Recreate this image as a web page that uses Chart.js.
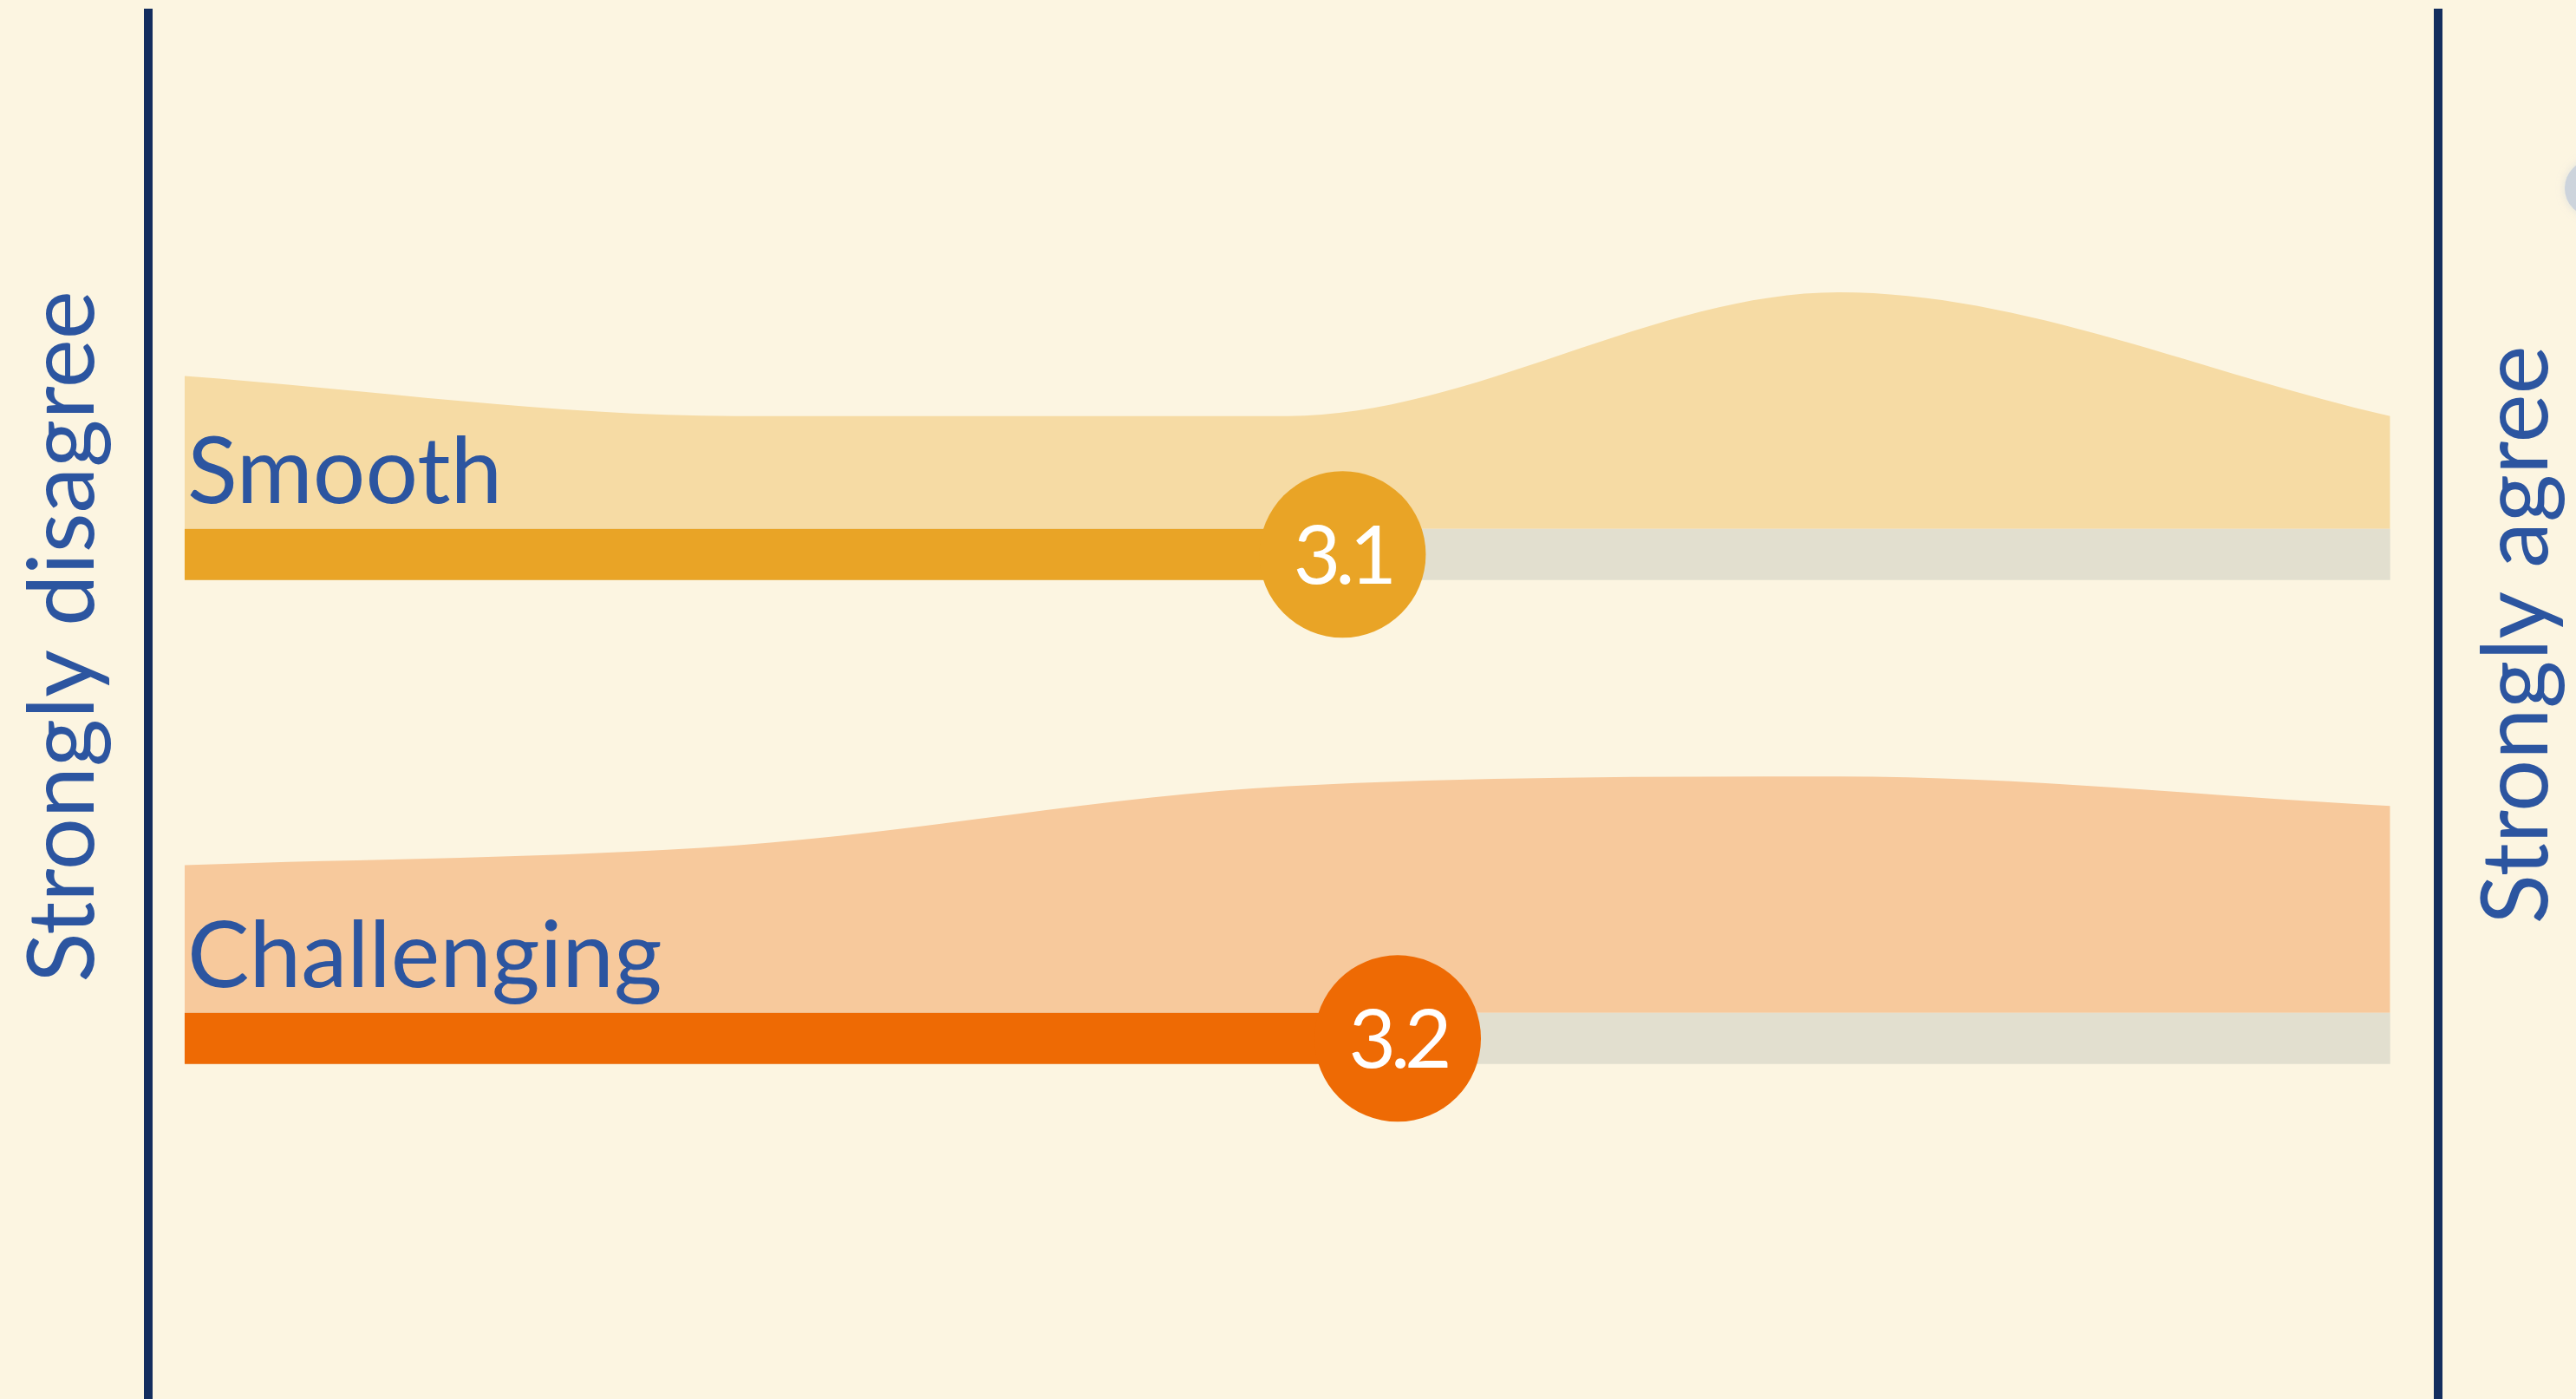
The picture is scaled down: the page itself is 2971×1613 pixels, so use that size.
<!DOCTYPE html>
<html>
<head>
<meta charset="utf-8">
<script src="https://cdn.jsdelivr.net/npm/chart.js@4"></script>
<style>
  html, body { margin: 0; padding: 0; background: #fcf5e1; overflow: hidden; }
  #wrap { position: relative; width: 2971px; height: 1613px; }
  #knob {
    position: absolute; left: 2958px; top: 184px; width: 66px; height: 66px;
    border-radius: 50%; background: #cdd4dc; box-shadow: 0 0 10px rgba(205, 212, 220, 0.6);
  }
</style>
</head>
<body>
<div id="wrap">
  <canvas id="chart"></canvas>
  <div id="knob"></div>
</div>
<script>
// data
const categories = ['Smooth', 'Challenging'];
const averages = [3.1, 3.2];
const responseLevels = [1, 2, 3, 4, 5];
const smoothShare = [21, 15.5, 15.5, 32.5, 15.5];
const challengingShare = [15, 17, 23, 24, 21];
const scaleLabels = ['Strongly disagree', 'Strongly agree'];

const shares = [smoothShare, challengingShare];
const fillColors = ['#f6dba4', '#f7c99c'];
const barColors = ['#e9a426', '#ee6a04'];
const trackColor = '#e2dfcf';
const textColor = '#2c55a0';
const lineColor = '#132d5e';

// row layout in y-scale units (0..100 over the canvas height)
const ROW_BASE = [62.2, 27.6];
const AREA_H = 16.9;
const BAR_H = 3.66;
const BAR_PX = 59;

const datasets = [];
categories.forEach((cat, i) => {
    const base = ROW_BASE[i];
    const mid = base - BAR_H / 2;
    const maxShare = Math.max(...shares[i]);
    // distribution shape above the bar
    datasets.push({
        label: cat + ' distribution',
        data: responseLevels.map((lvl, k) => ({ x: lvl, y: base + shares[i][k] / maxShare * AREA_H })),
        borderWidth: 0,
        pointRadius: 0,
        cubicInterpolationMode: 'monotone',
        backgroundColor: fillColors[i],
        fill: { value: base },
        order: 6
    });
    // grey track
    datasets.push({
        label: cat + ' track',
        data: [{ x: responseLevels[0], y: mid }, { x: responseLevels[responseLevels.length - 1], y: mid }],
        borderColor: trackColor,
        borderWidth: BAR_PX,
        borderCapStyle: 'butt',
        pointRadius: 0,
        order: 5
    });
    // coloured part up to the average
    datasets.push({
        label: cat + ' value',
        data: [{ x: responseLevels[0], y: mid }, { x: averages[i], y: mid }],
        borderColor: barColors[i],
        borderWidth: BAR_PX,
        borderCapStyle: 'butt',
        pointRadius: 0,
        order: 4
    });
    // average marker
    datasets.push({
        label: cat + ' average',
        data: [{ x: averages[i], y: mid }],
        showLine: false,
        pointRadius: 96,
        pointHoverRadius: 96,
        pointBackgroundColor: barColors[i],
        pointBorderWidth: 0,
        order: 1
    });
});

const decorations = {
    id: 'decorations',
    afterDatasetsDraw(chart) {
        const ctx = chart.ctx;
        const xs = chart.scales.x, ys = chart.scales.y;
        const area = chart.chartArea;
        ctx.save();

        // end lines
        ctx.strokeStyle = lineColor;
        ctx.lineWidth = 10;
        [area.left, area.right].forEach(x => {
            ctx.beginPath();
            ctx.moveTo(x, 10);
            ctx.lineTo(x, chart.height);
            ctx.stroke();
        });

        // row labels and average values
        categories.forEach((cat, i) => {
            const topPx = ys.getPixelForValue(ROW_BASE[i]);
            ctx.fillStyle = textColor;
            ctx.font = '107px Lato';
            ctx.textAlign = 'left';
            ctx.textBaseline = 'alphabetic';
            ctx.fillText(cat, xs.getPixelForValue(responseLevels[0]) + 3, topPx - 30);

            const cx = xs.getPixelForValue(averages[i]);
            const cy = ys.getPixelForValue(ROW_BASE[i] - BAR_H / 2);
            ctx.fillStyle = '#ffffff';
            ctx.font = '94px Lato';
            ctx.letterSpacing = '-6px';
            ctx.textAlign = 'center';
            ctx.fillText(averages[i].toFixed(1), cx, cy + 34);
            ctx.letterSpacing = '0px';
        });

        // rotated end labels
        ctx.fillStyle = textColor;
        ctx.font = '106px Lato';
        ctx.textAlign = 'center';
        ctx.textBaseline = 'alphabetic';
        [[scaleLabels[0], 108, 734], [scaleLabels[1], 2938, 732]].forEach(([txt, x, y]) => {
            ctx.save();
            ctx.translate(x, y);
            ctx.rotate(-Math.PI / 2);
            ctx.fillText(txt, 0, 0);
            ctx.restore();
        });
        ctx.restore();
    }
};

new Chart(document.getElementById('chart'), {
    type: 'line',
    data: { datasets: datasets },
    options: {
        responsive: true,
        maintainAspectRatio: false,
        animation: false,
        devicePixelRatio: 1,
        layout: { autoPadding: false, padding: { left: 171, right: 159, top: 0, bottom: 0 } },
        scales: {
            x: { type: 'linear', min: 0.934, max: 5.087, display: false },
            y: { type: 'linear', min: 0, max: 100, display: false }
        },
        plugins: {
            legend: { display: false },
            tooltip: { enabled: false }
        }
    },
    plugins: [decorations]
});
</script>
</body>
</html>
